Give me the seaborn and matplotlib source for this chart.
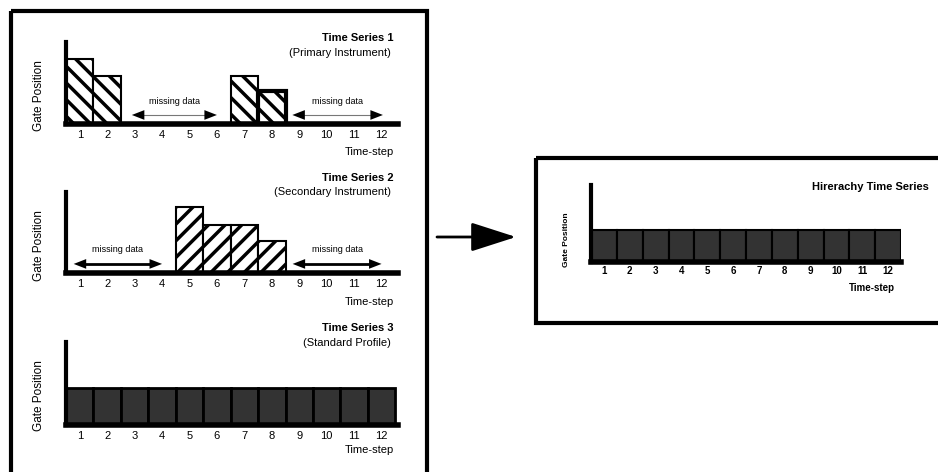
import matplotlib
matplotlib.use("Agg")
import matplotlib.pyplot as plt
from matplotlib.patches import Rectangle
import seaborn as sns

# ---- data ----
steps = [1, 2, 3, 4, 5, 6, 7, 8, 9, 10, 11, 12]
ts1_steps = [1, 2, 7, 8]
ts1_gate = [3.95, 2.9, 2.9, 2.0]
ts2_steps = [5, 6, 7, 8]
ts2_gate = [4.05, 2.95, 2.95, 1.95]
ts3_gate = [2.2, 2.2, 2.2, 2.2, 2.2, 2.2, 2.2, 2.2, 2.2, 2.2, 2.2, 2.2]
hier_gate = [2.1, 2.1, 2.1, 2.1, 2.1, 2.1, 2.1, 2.1, 2.1, 2.1, 2.1, 2.1]
ts1_gaps = [(2.9, 6.0), (8.75, 12.05)]
ts2_gaps = [(0.78, 4.0), (8.76, 12.0)]
titles = ["Time Series 1", "Time Series 2", "Time Series 3"]
subtitles = ["(Primary Instrument)", "(Secondary Instrument)", "(Standard Profile)"]

sns.set_style("white")
plt.rcParams['font.family'] = ['Liberation Sans', 'DejaVu Sans']
plt.rcParams['hatch.linewidth'] = 2.5
plt.rcParams['axes.edgecolor'] = 'black'
plt.rcParams['text.color'] = 'black'
plt.rcParams['xtick.color'] = 'black'
plt.rcParams['xtick.labelcolor'] = 'black'

W, H = 938, 472
fig = plt.figure(figsize=(W / 100, H / 100), dpi=100)

# background layer in pixel coordinates for boxes, arrow and text
bg = fig.add_axes([0, 0, 1, 1])
bg.set_xlim(0, W)
bg.set_ylim(H, 0)
bg.axis('off')


def px_axes(l, t, r, b):
    return fig.add_axes([l / W, 1 - b / H, (r - l) / W, (b - t) / H])


def style_axes(ax, xmax, labelsize, bold=False):
    ax.set_xlim(0.5, xmax)
    ax.set_ylim(0, 5)
    ax.set_xticks(steps)
    ax.set_xticklabels([str(s) for s in steps])
    ax.set_yticks([])
    ax.set_xlabel('')
    ax.set_ylabel('')
    sns.despine(ax=ax)
    ax.spines['left'].set_linewidth(3)
    ax.spines['bottom'].set_linewidth(4)
    ax.spines['left'].set_color('black')
    ax.spines['bottom'].set_color('black')
    ax.tick_params(axis='x', length=0, pad=4, labelsize=labelsize, labelcolor='black')
    if bold:
        for t in ax.get_xticklabels():
            t.set_fontweight('heavy')
    ax.patch.set_alpha(0)


def gap_arrow(ax, x0, x1, y, line_col, lw):
    ax.plot([x0 + 0.3, x1 - 0.3], [y, y], color=line_col, lw=lw, solid_capstyle='butt')
    mid = (x0 + x1) / 2
    for end in (x0, x1):
        ax.annotate('', xy=(end, y), xytext=(mid, y),
                    arrowprops=dict(arrowstyle='-|>,head_length=0.9,head_width=0.35',
                                    color='black', lw=0, mutation_scale=10,
                                    shrinkA=0, shrinkB=0))


# boxes and connecting arrow
bg.add_patch(Rectangle((11, 11), 416, 470, fill=False, lw=3, ec='black'))
bg.add_patch(Rectangle((536, 158), 420, 165, fill=False, lw=3, ec='black'))
bg.annotate('', xy=(516, 237), xytext=(437, 237),
            arrowprops=dict(arrowstyle='-|>,head_length=1.4,head_width=0.45',
                            color='black', lw=2, mutation_scale=20,
                            shrinkA=0, shrinkB=0))

# --- left panels ---
panel_px = [(42, 124), (192, 273), (342, 425)]
axes = [px_axes(66, t, 398, b) for t, b in panel_px]

sns.barplot(x=ts1_steps, y=ts1_gate, native_scale=True, width=1, color='white',
            edgecolor='black', linewidth=1.5, saturation=1, ax=axes[0])
for p in axes[0].patches:
    p.set_hatch('\\\\')
axes[0].patches[-1].set_linewidth(3)

sns.barplot(x=ts2_steps, y=ts2_gate, native_scale=True, width=1, color='white',
            edgecolor='black', linewidth=1.5, saturation=1, ax=axes[1])
for p in axes[1].patches:
    p.set_hatch('//')

sns.barplot(x=steps, y=ts3_gate, native_scale=True, width=1, color='#333333',
            edgecolor='black', linewidth=2, saturation=1, ax=axes[2])

for ax in axes:
    style_axes(ax, 12.6, 8)

for x0, x1 in ts1_gaps:
    gap_arrow(axes[0], x0, x1, 0.55, '#777777', 0.8)
    axes[0].text((x0 + x1) / 2, 1.4, 'missing data', ha='center', va='center', fontsize=6.5)
for x0, x1 in ts2_gaps:
    gap_arrow(axes[1], x0, x1, 0.56, 'black', 2)
    axes[1].text((x0 + x1) / 2, 1.42, 'missing data', ha='center', va='center', fontsize=6.5)

title_y = [38, 178, 328]
sub_y = [53, 192, 343]
ts_y = [152, 302, 450]
lab_y = [96, 246, 396]
for i in range(3):
    bg.text(394, title_y[i], titles[i], ha='right', va='center', fontsize=8, fontweight='bold')
    bg.text(391, sub_y[i], subtitles[i], ha='right', va='center', fontsize=8)
    bg.text(394, ts_y[i], 'Time-step', ha='right', va='center', fontsize=8)
    bg.text(39, lab_y[i], 'Gate Position', ha='center', va='center', fontsize=8.5, rotation=90)

# --- hierarchy panel ---
axh = px_axes(591, 185, 901, 262)
sns.barplot(x=steps, y=hier_gate, native_scale=True, width=1, color='#333333',
            edgecolor='black', linewidth=1.5, saturation=1, ax=axh)
style_axes(axh, 12.5, 7, bold=True)
axh.tick_params(axis='x', pad=3)
bg.text(929, 187, 'Hirerachy Time Series', ha='right', va='center', fontsize=8, fontweight='bold')
bg.text(895, 288, 'Time-step', ha='right', va='center', fontsize=7, fontweight='heavy')
bg.text(567, 240, 'Gate Position', ha='center', va='center', fontsize=6, fontweight='heavy', rotation=90)

fig.savefig('out.png', dpi=100)
